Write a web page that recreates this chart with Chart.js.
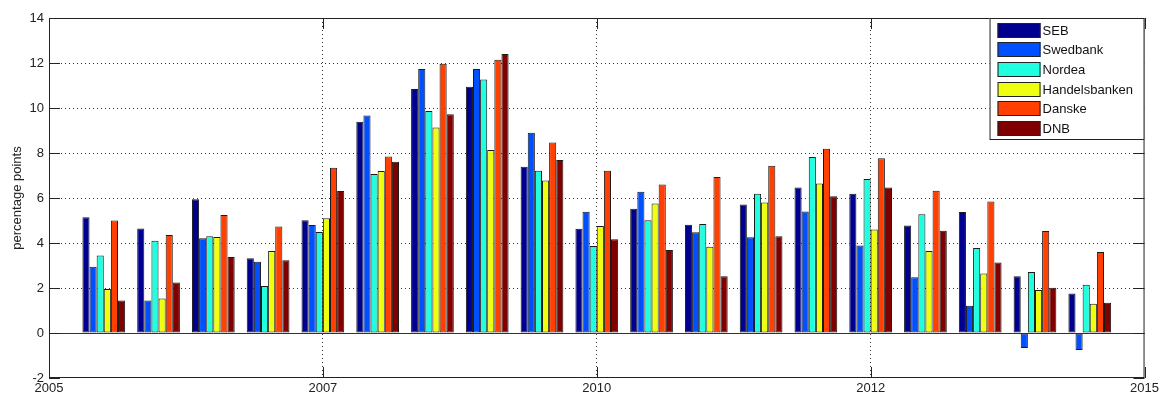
<!DOCTYPE html>
<html>
<head>
<meta charset="utf-8">
<title>Bank spreads</title>
<script src="https://cdn.jsdelivr.net/npm/chart.js@4.4.1/dist/chart.umd.min.js"></script>
<style>
html, body { margin: 0; padding: 0; background: #fff; }
#wrap { width: 1162px; height: 394px; }
</style>
</head>
<body>
<div id="wrap"><canvas id="chart" width="1162" height="394"></canvas></div>
<script>
// half-year observations (decimal years)
const periods = [2005.5, 2006, 2006.5, 2007, 2007.5, 2008, 2008.5, 2009, 2009.5, 2010,
  2010.5, 2011, 2011.5, 2012, 2012.5, 2013, 2013.5, 2014, 2014.5];

const banks = ['SEB', 'Swedbank', 'Nordea', 'Handelsbanken', 'Danske', 'DNB'];

const seb = [5.14, 4.64, 5.94, 3.32, 5.01, 9.39, 10.84, 10.95, 7.39, 4.63,
  5.52, 4.81, 5.71, 6.47, 6.19, 4.78, 5.38, 2.52, 1.76];
const swedbank = [2.95, 1.44, 4.21, 3.17, 4.80, 9.67, 11.73, 11.73, 8.90, 5.39,
  6.28, 4.48, 4.26, 5.40, 3.89, 2.48, 1.21, -0.67, -0.76];
const nordea = [3.45, 4.10, 4.30, 2.09, 4.49, 7.07, 9.87, 11.27, 7.21, 3.87,
  5.01, 4.85, 6.19, 7.82, 6.84, 5.28, 3.78, 2.71, 2.15];
const handelsbanken = [1.96, 1.53, 4.27, 3.64, 5.10, 7.20, 9.13, 8.13, 6.78, 4.76,
  5.76, 3.83, 5.80, 6.65, 4.60, 3.65, 2.65, 1.91, 1.30];
const danske = [5.00, 4.36, 5.24, 4.73, 7.35, 7.85, 11.97, 12.15, 8.47, 7.21,
  6.60, 6.93, 7.43, 8.19, 7.77, 6.32, 5.84, 4.53, 3.60];
const dnb = [1.45, 2.25, 3.38, 3.23, 6.31, 7.61, 9.72, 12.40, 7.69, 4.17,
  3.69, 2.52, 4.30, 6.08, 6.47, 4.54, 3.13, 2.01, 1.35];

const xTickLabels = ['2005', '2007', '2010', '2012', '2015'];
const yTickLabels = ['-2', '0', '2', '4', '6', '8', '10', '12', '14'];

// jet colormap, 6 entries as matlab picks them
const colours = ['#000090', '#0050FF', '#20FFDF', '#EFFF10', '#FF4000', '#800000'];

const series = [seb, swedbank, nordea, handelsbanken, danske, dnb];
const FONT = '"Liberation Sans", Arial, Helvetica, sans-serif';
Chart.defaults.font.family = FONT;
Chart.defaults.color = '#222';

// baseline, box, inward ticks (matlab look)
const matlabAxes = {
  id: 'matlabAxes',
  beforeDatasetsDraw(chart) {
    const { ctx, chartArea: a, scales: { y } } = chart;
    const py = Math.round(y.getPixelForValue(0)) + 0.5;
    ctx.save();
    ctx.strokeStyle = '#333';
    ctx.lineWidth = 1;
    ctx.beginPath();
    ctx.moveTo(a.left, py);
    ctx.lineTo(a.right, py);
    ctx.stroke();
    ctx.restore();
  },
  afterDatasetsDraw(chart) {
    const { ctx, chartArea: a, scales: { x, y } } = chart;
    ctx.save();
    ctx.strokeStyle = '#222';
    ctx.lineWidth = 1;
    ctx.beginPath();
    x.ticks.forEach(t => {
      const px = Math.round(x.getPixelForValue(t.value)) + 0.5;
      ctx.moveTo(px, a.bottom);
      ctx.lineTo(px, a.bottom - 11);
      ctx.moveTo(px, a.top);
      ctx.lineTo(px, a.top + 11);
    });
    y.ticks.forEach(t => {
      const py = Math.round(y.getPixelForValue(t.value)) + 0.5;
      ctx.moveTo(a.left, py);
      ctx.lineTo(a.left + 11, py);
      ctx.moveTo(a.right, py);
      ctx.lineTo(a.right - 11, py);
    });
    ctx.stroke();
    ctx.strokeRect(a.left + 0.5, a.top + 0.5, a.width - 1, a.height - 1);
    ctx.restore();
  }
};

// legend box in the upper right corner
const legendBox = {
  id: 'legendBox',
  afterDraw(chart) {
    const { ctx, chartArea: a } = chart;
    const w = 155, h = 122;
    const x0 = a.right - w, y0 = a.top;
    ctx.save();
    ctx.fillStyle = '#fff';
    ctx.fillRect(x0, y0, w, h);
    ctx.strokeStyle = '#222';
    ctx.lineWidth = 1;
    ctx.strokeRect(x0 + 0.5, y0 + 0.5, w - 1, h - 1);
    ctx.font = '13px ' + FONT;
    ctx.textBaseline = 'middle';
    chart.data.datasets.forEach((ds, i) => {
      const cy = Math.round(y0 + 11.5 + i * 19.7);
      ctx.fillStyle = ds.backgroundColor;
      ctx.fillRect(x0 + 8, cy - 7, 43, 15);
      ctx.strokeStyle = '#222';
      ctx.strokeRect(x0 + 8.5, cy - 6.5, 42, 14);
      ctx.fillStyle = '#111';
      ctx.fillText(ds.label, x0 + 53, cy + 1);
    });
    ctx.restore();
  }
};

new Chart(document.getElementById('chart'), {
  type: 'bar',
  data: {
    datasets: banks.map((name, i) => ({
      label: name,
      data: periods.map((p, j) => ({ x: p, y: series[i][j] })),
      backgroundColor: colours[i],
      borderColor: '#1a1a1a',
      borderWidth: 1,
      borderSkipped: false,
      categoryPercentage: 0.78,
      barPercentage: 1.0
    }))
  },
  options: {
    responsive: false,
    animation: false,
    devicePixelRatio: 1,
    layout: { padding: { top: 18, right: 16, left: 0, bottom: 0 } },
    plugins: {
      legend: { display: false },
      tooltip: { enabled: false }
    },
    scales: {
      x: {
        type: 'linear',
        min: 2005,
        max: 2015,
        offset: false,
        afterFit: s => { s.height = 16; },
        grid: {
          offset: false,
          drawTicks: false,
          color: c => (c.tick && (c.tick.value === 2005 || c.tick.value === 2015)) ? 'rgba(0,0,0,0)' : '#333'
        },
        border: { display: false, dash: [1, 3] },
        ticks: {
          stepSize: 2.5,
          autoSkip: false,
          maxRotation: 0,
          padding: 3,
          color: '#222',
          font: { size: 13 },
          callback: (v, i) => xTickLabels[i]
        }
      },
      y: {
        min: -2,
        max: 14,
        afterFit: s => { s.width = 49; },
        grid: {
          drawTicks: false,
          color: c => (c.tick && [-2, 0, 14].includes(c.tick.value)) ? 'rgba(0,0,0,0)' : '#333'
        },
        border: { display: false, dash: [1, 3] },
        ticks: {
          stepSize: 2,
          padding: 5,
          color: '#222',
          font: { size: 13 },
          callback: (v, i) => yTickLabels[i]
        },
        title: {
          display: true,
          text: 'percentage points',
          color: '#222',
          font: { size: 13 },
          padding: { top: 10, bottom: 0 }
        }
      }
    }
  },
  plugins: [matlabAxes, legendBox]
});
</script>
</body>
</html>
